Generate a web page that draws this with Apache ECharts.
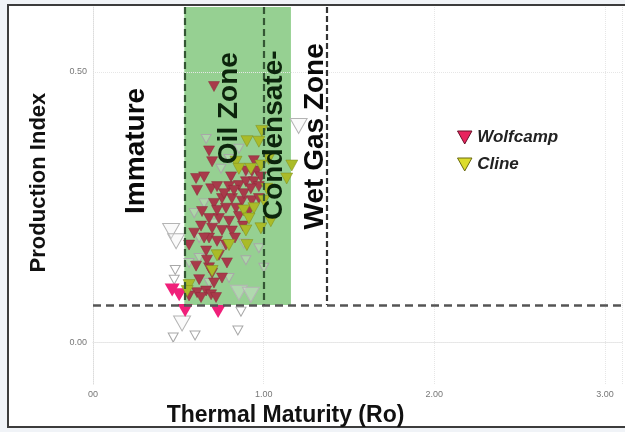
<!DOCTYPE html>
<html>
<head>
<meta charset="utf-8">
<script src="https://cdn.jsdelivr.net/npm/echarts@6/dist/echarts.min.js"></script>
<style>
html,body{margin:0;padding:0;background:#f0f3f7;}
#chart{width:625px;height:432px;}
</style>
</head>
<body>
<div id="chart"></div>
<script>
// ---- data ----
const xTickValues = [0, 1, 2, 3];
const xTickLabels = ['00', '1.00', '2.00', '3.00'];
const yTickValues = [0, 0.5];
const yTickLabels = ['0.00', '0.50'];

const wolfcampRo = [0.709,0.680,0.698,0.604,0.651,0.610,0.692,0.727,0.797,0.855,0.896,0.943,0.972,0.756,0.814,0.873,0.931,0.779,0.838,0.914,0.639,0.680,0.738,0.797,0.855,0.633,0.698,0.756,0.814,0.680,0.727,0.779,0.563,0.663,0.738,0.604,0.680,0.756,0.610,0.663,0.692,0.563,0.633,0.721,0.972,0.931,0.943,0.960,0.884,0.826,0.768,0.709,0.668,0.622,0.709,0.785,0.593,0.879,0.925,0.984,0.896,0.809,0.727,0.651,0.832,0.698];
const wolfcampPI = [0.473,0.354,0.334,0.303,0.306,0.281,0.284,0.288,0.288,0.290,0.297,0.297,0.288,0.266,0.266,0.261,0.262,0.248,0.248,0.242,0.242,0.229,0.229,0.224,0.233,0.215,0.211,0.207,0.206,0.193,0.187,0.180,0.180,0.169,0.161,0.141,0.138,0.119,0.092,0.095,0.088,0.086,0.083,0.083,0.266,0.316,0.336,0.317,0.275,0.281,0.275,0.257,0.152,0.116,0.110,0.147,0.202,0.215,0.284,0.306,0.317,0.306,0.244,0.193,0.193,0.128];

const wolfcampHiRo = [0.464,0.505,0.540,0.733];
const wolfcampHiPI = [0.097,0.088,0.059,0.057];

const clineRo = [0.902,0.989,0.972,0.838,0.925,0.984,1.165,1.135,1.019,1.001,0.943,0.884,0.914,0.984,1.042,0.896,0.902,0.797,0.727,0.698,0.563,0.552,0.855,1.030];
const clinePI = [0.372,0.391,0.371,0.334,0.321,0.327,0.327,0.303,0.284,0.262,0.248,0.244,0.229,0.211,0.224,0.207,0.180,0.180,0.161,0.132,0.106,0.095,0.321,0.339];

const otherRo = [0.482,0.476,0.663,0.470,0.598,0.849,0.867,0.896,0.768,0.884,0.622,0.593,0.651,0.797,0.750,0.855,0.914,0.709,0.622,0.797,0.680,0.972,0.563,1.001];
const otherPI = [0.134,0.116,0.376,0.009,0.013,0.022,0.057,0.152,0.180,0.183,0.156,0.239,0.257,0.339,0.321,0.358,0.303,0.220,0.193,0.119,0.110,0.174,0.147,0.138];
const otherBigRo = [0.458,0.487,1.205,0.522,0.855,0.925];
const otherBigPI = [0.206,0.187,0.400,0.035,0.092,0.088];

const zoneNames = ['Immature', 'Oil Zone', 'Condensate-', 'Wet Gas Zone'];
const zoneLabelRo = [0.254, 0.797, 1.065, 1.300];
const zoneLabelPI = [0.354, 0.433, 0.383, 0.381];

const boundaryRo = [0.535, 1.0, 1.37];
const oilWindowRo = [0.535, 1.16];
const piCutoff = 0.069;

const xMin = 0, xMax = 3.1, yMin = -0.077, yMax = 0.62;

// ---- chart ----
const zip = (a, b) => a.map((v, i) => [v, b[i]]);
const triDown = 'path://M0,0 L10,0 L5,9 Z';
const FONT = 'Liberation Sans';

const chart = echarts.init(document.getElementById('chart'));
chart.setOption({
  animation: false,
  backgroundColor: 'transparent',
  graphic: [{
    type: 'rect', z: -10, silent: true,
    shape: { x: 8, y: 5, width: 700, height: 422 },
    style: { fill: '#ffffff', stroke: '#3c3c3c', lineWidth: 2 }
  }],
  grid: { left: 93, right: 1, top: 7, bottom: 45 },
  legend: {
    orient: 'vertical', left: 452, top: 124,
    itemWidth: 15, itemHeight: 13, itemGap: 10,
    textStyle: { fontStyle: 'italic', fontWeight: 'bold', fontSize: 17, color: '#222', fontFamily: FONT },
    data: [
      { name: 'Wolfcamp', icon: triDown, itemStyle: { color: '#e8245e', borderColor: '#6a1028', borderWidth: 1, opacity: 1 } },
      { name: 'Cline', icon: triDown, itemStyle: { color: '#dcdc2c', borderColor: '#6a6a10', borderWidth: 1, opacity: 1 } }
    ]
  },
  xAxis: {
    type: 'value', min: xMin, max: xMax, interval: 1,
    name: 'Thermal Maturity (Ro)', nameLocation: 'middle', nameGap: 14,
    nameTextStyle: { fontSize: 23, fontWeight: 'bold', color: '#111', fontFamily: FONT, padding: [0, 144, 0, 0] },
    axisLine: { show: true, lineStyle: { color: '#dcdcdc', type: 'dotted' } },
    axisTick: { show: false },
    axisLabel: { fontSize: 9, color: '#777', margin: 6, fontFamily: FONT,
      formatter: v => { const i = xTickValues.indexOf(v); return i >= 0 ? xTickLabels[i] : ''; } },
    splitLine: { show: true, lineStyle: { color: '#e6e6e6', type: 'dotted' } }
  },
  yAxis: {
    type: 'value', min: yMin, max: yMax,
    name: 'Production Index', nameLocation: 'middle', nameRotate: 90, nameGap: 43,
    nameTextStyle: { fontSize: 22, fontWeight: 'bold', color: '#111', fontFamily: FONT, padding: [0, 0, 0, 26] },
    axisLine: { show: true, lineStyle: { color: '#dcdcdc', type: 'dotted' } },
    axisTick: { show: false },
    axisLabel: { fontSize: 9, color: '#777', margin: 6, fontFamily: FONT,
      customValues: yTickValues,
      formatter: v => { const i = yTickValues.findIndex(t => Math.abs(t - v) < 1e-9); return i >= 0 ? yTickLabels[i] : ''; } },
    splitLine: { show: false }
  },
  series: [
    { // horizontal grid lines
      type: 'scatter', data: [], z: 1, silent: true,
      markLine: { silent: true, symbol: 'none', label: { show: false },
        lineStyle: { color: '#e6e6e6', type: 'dotted', width: 1 },
        data: yTickValues.map(v => ({ yAxis: v })) }
    },
    { name: 'Other', type: 'scatter', z: 2, symbol: triDown, symbolSize: [10, 9],
      itemStyle: { color: 'rgba(255,255,255,0.2)', borderColor: '#a8a8a8', borderWidth: 1, opacity: 1 },
      data: zip(otherRo, otherPI) },
    { name: 'OtherBig', type: 'scatter', z: 2, symbol: triDown, symbolSize: [17, 15],
      itemStyle: { color: 'rgba(240,240,240,0.3)', borderColor: '#b4b4b4', borderWidth: 1, opacity: 1 },
      data: zip(otherBigRo, otherBigPI) },
    { // oil window shading
      type: 'scatter', data: [], z: 3, silent: true,
      markArea: { silent: true, itemStyle: { color: '#7cc477', opacity: 0.8 },
        data: [[{ coord: [oilWindowRo[0], piCutoff] }, { coord: [oilWindowRo[1], yMax] }]] }
    },
    { name: 'Wolfcamp', type: 'scatter', z: 4, symbol: triDown, symbolSize: [11, 10],
      itemStyle: { color: '#a83a4a', borderColor: '#8a2838', borderWidth: 0.5, opacity: 1 },
      data: zip(wolfcampRo, wolfcampPI) },
    { name: 'Wolfcamp', type: 'scatter', z: 4, symbol: triDown, symbolSize: [15, 13],
      itemStyle: { color: '#f0207a', opacity: 1 },
      data: zip(wolfcampHiRo, wolfcampHiPI) },
    { name: 'Cline', type: 'scatter', z: 4, symbol: triDown, symbolSize: [12, 11],
      itemStyle: { color: '#aabb28', borderColor: '#7d8a1a', borderWidth: 0.5, opacity: 1 },
      data: zip(clineRo, clinePI) },
    { // zone boundaries
      type: 'scatter', data: [], z: 5, silent: true,
      markLine: { silent: true, symbol: 'none', label: { show: false },
        data: [
          [{ coord: [boundaryRo[0], yMax], lineStyle: { color: '#345634', width: 2.2, type: [7, 4] } }, { coord: [boundaryRo[0], piCutoff] }],
          [{ coord: [boundaryRo[1], yMax], lineStyle: { color: '#345634', width: 2.2, type: [7, 4] } }, { coord: [boundaryRo[1], piCutoff] }],
          [{ coord: [boundaryRo[2], yMax], lineStyle: { color: '#333', width: 2.2, type: [6, 3] } }, { coord: [boundaryRo[2], piCutoff] }],
          [{ coord: [xMin, piCutoff], lineStyle: { color: '#555', width: 2.6, type: [8, 5] } }, { coord: [xMax, piCutoff] }]
        ] }
    },
    { // zone labels
      type: 'scatter', z: 6, silent: true, symbolSize: 0,
      itemStyle: { opacity: 1 },
      label: { show: true, position: 'inside', rotate: 90, formatter: '{b}',
        fontSize: 28, fontWeight: 'bold', fontFamily: FONT, color: '#0a0a0a' },
      data: zoneNames.map((n, i) => ({ name: n, value: [zoneLabelRo[i], zoneLabelPI[i]],
        label: (i === 1 || i === 2) ? { color: '#0c240c' } : {} }))
    }
  ]
});
</script>
</body>
</html>
